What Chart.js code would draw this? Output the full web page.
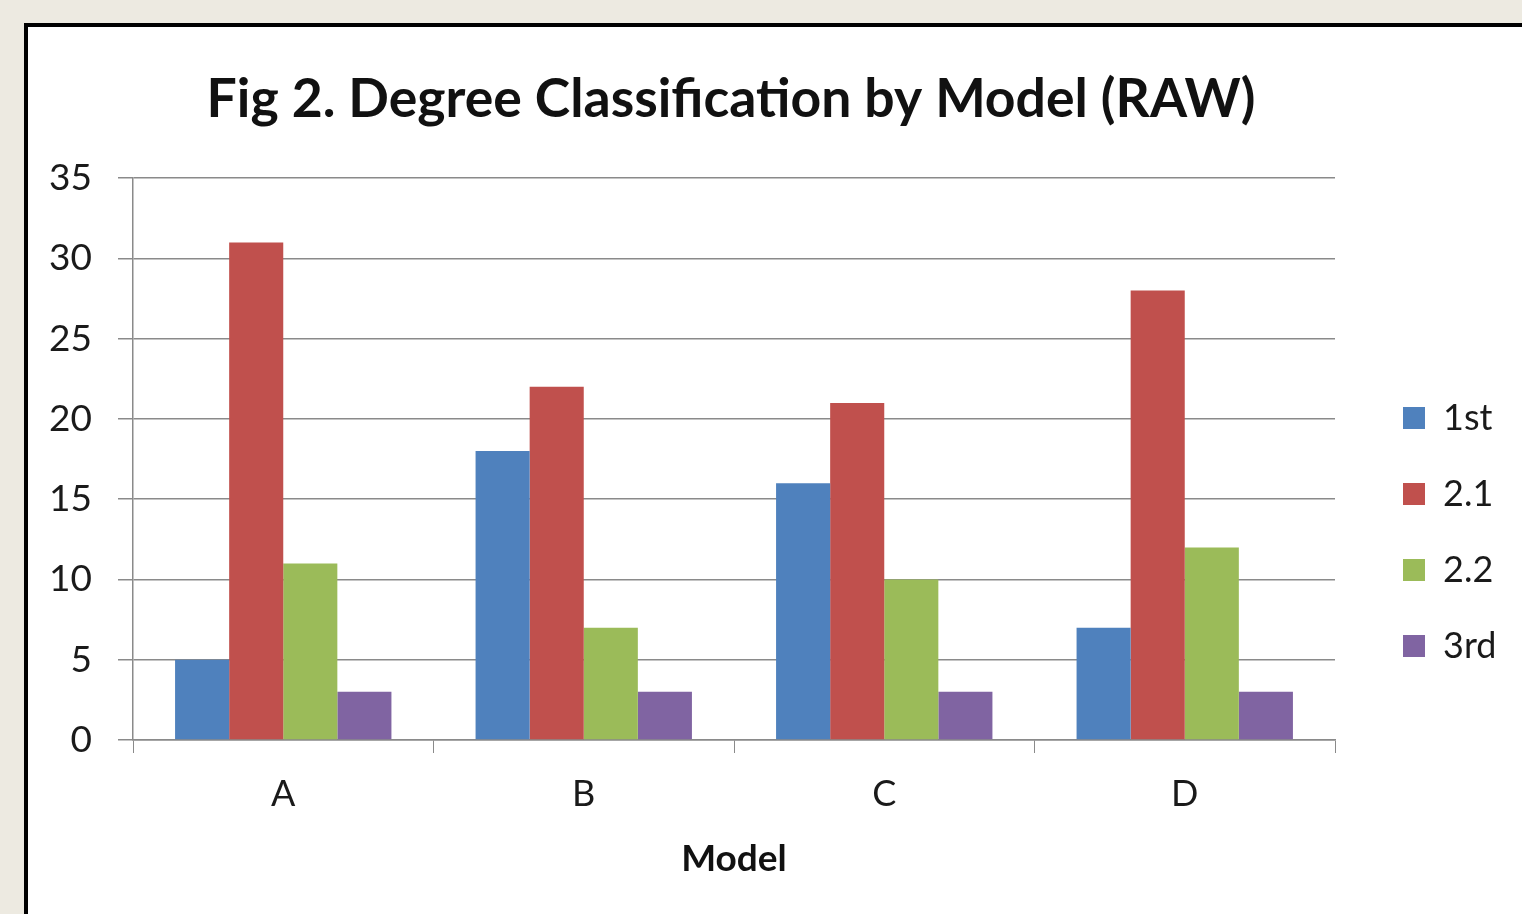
<!DOCTYPE html>
<html>
<head>
<meta charset="utf-8">
<script src="https://cdn.jsdelivr.net/npm/chart.js@4/dist/chart.umd.min.js"></script>
<style>
  html, body { margin: 0; padding: 0; width: 1522px; height: 914px; overflow: hidden; background: #edeae1; }
  #panel { position: absolute; left: 24px; top: 23px; width: 1600px; height: 1000px; background: #ffffff; border-left: 4px solid #000; border-top: 4px solid #000; }
  #wrap { position: absolute; left: 0; top: 0; width: 1522px; height: 914px; }
</style>
</head>
<body>
<div id="panel"></div>
<div id="wrap"><canvas id="c" width="1522" height="914"></canvas></div>
<script>
const categories = ['A', 'B', 'C', 'D'];
const seriesNames = ['1st', '2.1', '2.2', '3rd'];
const first = [5, 18, 16, 7];
const twoOne = [31, 22, 21, 28];
const twoTwo = [11, 7, 10, 12];
const third = [3, 3, 3, 3];
const colors = ['#4F81BD', '#C0504D', '#9BBB59', '#8064A2'];
const yTicks = [0, 5, 10, 15, 20, 25, 30, 35];
const titleText = 'Fig 2. Degree Classification by Model (RAW)';
const xTitle = 'Model';

const FONT = 'Lato, "Open Sans", sans-serif';
const TXT = '#1a1a1a';
const GRID = '#8a8a8a';

const legendShift = {
  id: 'legendShift',
  beforeLayout(chart) {
    const lg = chart.legend;
    if (lg && !lg._fixedFit) {
      const orig = lg.fit.bind(lg);
      lg.fit = function () { orig(); this.width = 127; };
      lg._fixedFit = true;
    }
  },
  afterLayout(chart) {
    const lg = chart.legend;
    if (!lg) return;
    lg.left = chart.chartArea.right + 28;
    lg.width = 1522 - lg.left;
    lg.right = 1522;
    lg.maxWidth = lg.width;
    const mid = (lg.top + lg.bottom) / 2;
    const dy = 532 - mid;
    lg.top += dy; lg.bottom += dy;
  }
};

new Chart(document.getElementById('c'), {
  type: 'bar',
  data: {
    labels: categories,
    datasets: [first, twoOne, twoTwo, third].map((d, i) => ({
      label: seriesNames[i],
      data: d,
      backgroundColor: colors[i],
      borderWidth: 0,
      categoryPercentage: 0.72,
      barPercentage: 1.0
    }))
  },
  options: {
    responsive: false,
    animation: false,
    devicePixelRatio: 1,
    layout: { padding: { left: 0, right: 60, top: 0, bottom: 0 } },
    plugins: {
      title: {
        display: true,
        text: titleText,
        color: '#111',
        font: { family: FONT, size: 53.5, weight: 'bold' },
        padding: { top: 68, bottom: 46 }
      },
      legend: {
        position: 'right',
        labels: {
          color: TXT,
          font: { family: FONT, size: 36 },
          boxWidth: 22,
          boxHeight: 22,
          padding: 40
        }
      },
      tooltip: { enabled: false }
    },
    scales: {
      x: {
        grid: { drawOnChartArea: false, drawTicks: true, tickLength: 13, color: GRID, offset: true },
        border: { color: GRID, width: 1.5 },
        ticks: { color: TXT, font: { family: FONT, size: 36 }, padding: 20 },
        title: { display: true, text: xTitle, color: '#111', font: { family: FONT, size: 37, weight: 'bold' }, padding: { top: 0, bottom: 33 } },
        afterFit(scale) { scale.height = 174; }
      },
      y: {
        min: 0, max: 35,
        afterBuildTicks(scale) { scale.ticks = yTicks.map(v => ({ value: v })); },
        grid: { color: GRID, lineWidth: 1.5, tickLength: 15, drawTicks: true },
        border: { color: GRID, width: 1.5 },
        ticks: { color: TXT, font: { family: FONT, size: 37 }, padding: 26 },
        afterFit(scale) { scale.width = 133; }
      }
    }
  },
  plugins: [legendShift]
});
</script>
</body>
</html>
